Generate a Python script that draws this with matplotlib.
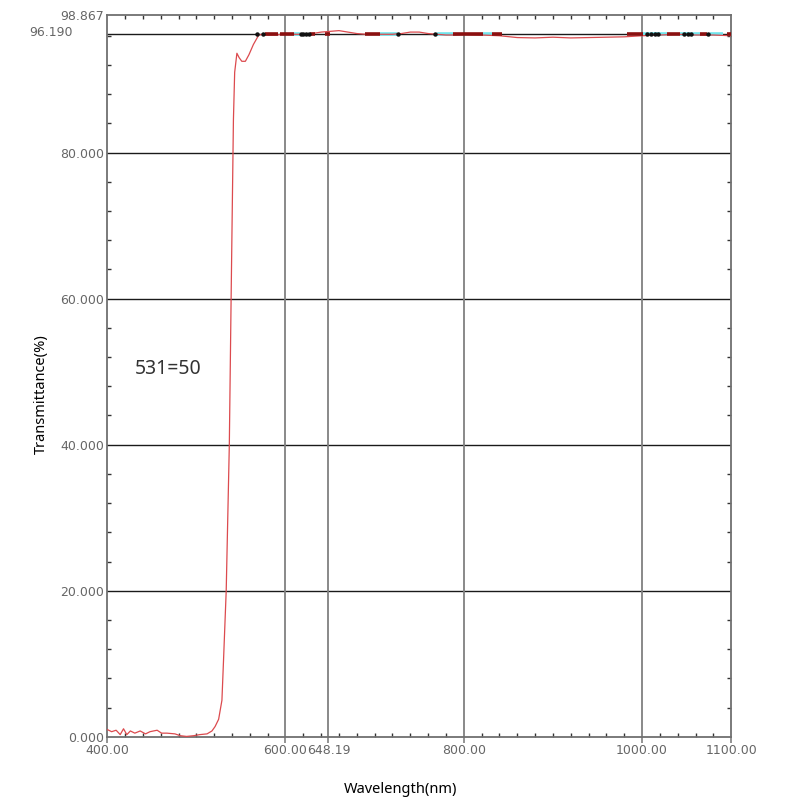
import matplotlib
matplotlib.use('Agg')
import matplotlib.pyplot as plt
from matplotlib.ticker import MultipleLocator

# measured spectrum (nm, %T)
wavelength = [400, 405, 410, 414.6, 418.3, 422, 426, 431, 437, 443, 448, 456, 461, 467,
              476, 482, 489, 497, 504, 512, 517.5, 521, 525, 528.7, 530.5, 533.5, 537,
              539, 541.6, 543, 545.5, 548, 551, 555, 559, 564, 570, 575, 580, 590, 600,
              610, 620, 630, 640, 650, 660, 670, 680, 690, 700, 710, 720, 730, 740, 750,
              760, 770, 780, 790, 800, 820, 840, 860, 880, 900, 920, 940, 960, 980, 1000,
              1020, 1040, 1060, 1080, 1100]
transmittance = [1.0, 0.7, 0.9, 0.3, 1.1, 0.3, 0.8, 0.5, 0.8, 0.4, 0.7, 0.9, 0.5, 0.5,
                 0.4, 0.15, 0.05, 0.15, 0.3, 0.4, 0.8, 1.4, 2.4, 5.0, 10.5, 20.0, 40.0,
                 60.0, 84.5, 91.0, 93.6, 93.0, 92.5, 92.5, 93.4, 94.8, 96.1, 96.2, 96.1, 96.1, 96.3,
                 96.2, 96.2, 96.3, 96.5, 96.6, 96.7, 96.5, 96.3, 96.2, 96.2, 96.2, 96.2, 96.3, 96.5, 96.5,
                 96.3, 96.2, 96.1, 96.1, 96.2, 96.1, 96.0, 95.75, 95.7, 95.8, 95.7, 95.75, 95.8, 95.85, 96.0,
                 96.1, 96.2, 96.1, 96.1, 96.0]

# reference level marker overlay along 96.19
ref_level = 96.19
darkred_spans = [(577, 592), (594, 609), (628, 633), (644, 650), (689, 706), (788, 822),
                 (832, 843), (983, 1001), (1028, 1043), (1065, 1073), (1095, 1100)]
cyan_spans = [(609, 616), (706, 725), (770, 788), (822, 832), (1001, 1028),
              (1043, 1065), (1076, 1091)]
black_dots = [568, 575, 617, 620, 623, 626, 726, 768, 1006, 1010, 1014, 1018,
              1047, 1051, 1055, 1074]

x_ticks = [400, 600, 648.19, 800, 1000, 1100]
x_labels = ['400.00', '600.00', '648.19', '800.00', '1000.00', '1100.00']
y_ticks = [0, 20, 40, 60, 80, 98.867]
y_labels = ['0.000', '20.000', '40.000', '60.000', '80.000', '98.867']
h_lines = [20, 40, 60, 80, 96.19]
v_lines = [600, 648.19, 800, 1000]

fig = plt.figure(figsize=(8, 8), dpi=100)
ax = fig.add_axes([0.134, 0.079, 0.78, 0.9025])

for y in h_lines:
    ax.axhline(y, color='#1a1a1a', lw=1.0, zorder=1)
for x in v_lines:
    ax.axvline(x, color='#808080', lw=1.3, zorder=1)

for a, b in cyan_spans:
    ax.plot([a, b], [ref_level, ref_level], color='#70e4ec', lw=2.6, zorder=3,
            solid_capstyle='butt')
ax.plot(wavelength, transmittance, color='#dc4a4e', lw=0.9, zorder=4)
for a, b in darkred_spans:
    ax.plot([a, b], [ref_level, ref_level], color='#8b1010', lw=2.6, zorder=5,
            solid_capstyle='butt')
ax.plot(black_dots, [ref_level] * len(black_dots), ls='none', marker='o',
        ms=2.2, color='#111111', zorder=6)

ax.set_xlim(400, 1100)
ax.set_ylim(0, 98.867)

tick_font = {'family': 'DejaVu Sans', 'size': 9}
ax.set_xticks(x_ticks)
ax.set_xticklabels(x_labels, fontdict=tick_font, color='#666666')
ax.set_yticks(y_ticks)
ax.set_yticklabels(y_labels, fontdict=tick_font, color='#666666')
ax.xaxis.set_minor_locator(MultipleLocator(20))
ax.yaxis.set_minor_locator(MultipleLocator(4))
ax.tick_params(axis='x', which='major', direction='out', length=4, width=1.2,
               color='#808080', pad=1.5)
ax.tick_params(axis='y', which='major', length=0, pad=2)
ax.tick_params(which='minor', direction='in', length=3, width=1, color='#333333',
               top=True, right=True)

for s in ax.spines.values():
    s.set_color('#707070')
    s.set_linewidth(1.3)

fig.text(51 / 800, 1 - 33 / 800, '96.190', ha='center', va='center',
         fontdict=tick_font, color='#666666')

ax.text(431, 50.3, '531=50', fontsize=14, family='Noto Sans', color='#333333',
        va='center', ha='left')
ax.set_xlabel('Wavelength(nm)', fontsize=10.5, family='Noto Sans')
ax.set_ylabel('Transmittance(%)', fontsize=10.5, family='Noto Sans')
ax.xaxis.set_label_coords(0.47, -0.062)
ax.yaxis.set_label_coords(-0.093, 0.474)

fig.savefig('out.png', dpi=100, facecolor='white')
